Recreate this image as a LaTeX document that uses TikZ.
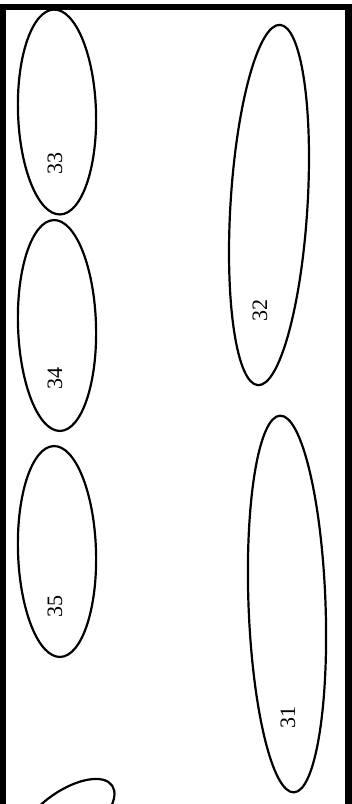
\documentclass[tikz,border=0pt]{standalone}
\usepackage{fontspec}
\setmainfont{Liberation Serif}
\usetikzlibrary{shapes.geometric}
\tikzset{
  ell/.style={draw=black, line width=2.2pt, ellipse, inner sep=0pt, outer sep=0pt},
  lbl/.style={font=\fontsize{22}{22}\selectfont, rotate=90, inner sep=0pt},
  frame/.style={draw=black, line width=6.5pt}
}
\begin{document}
\begin{tikzpicture}[x=1pt, y=-1pt]
\useasboundingbox (0,0) rectangle (352,804);
\begin{scope}
\clip (0,0) rectangle (352,804);
% frame (bottom side lies outside the picture)
\coordinate (fbl) at (3,830);
\coordinate (ftl) at (3,7);
\coordinate (ftr) at (348.5,7);
\coordinate (fbr) at (348.5,830);
\draw[frame] (fbl) -- (ftl) -- (ftr) -- (fbr);
% ellipses
\node[ell, minimum width=78pt, minimum height=205pt, rotate=1.8] (e33) at (57,112) {};
\node[ell, minimum width=78pt, minimum height=211pt, rotate=1.8] (e34) at (57,325.5) {};
\node[ell, minimum width=78pt, minimum height=211pt, rotate=1.8] (e35) at (57,551.5) {};
\node[ell, minimum width=77pt, minimum height=361pt, rotate=-3.5] (e32) at (269,205) {};
\node[ell, minimum width=77pt, minimum height=377pt, rotate=2.1] (e31) at (287,604) {};
\node[ell, minimum width=110pt, minimum height=52pt, rotate=35] (e36) at (67,817) {};
% labels
\node[lbl] (t33) at (55,163) {33};
\node[lbl] (t34) at (55,378) {34};
\node[lbl] (t35) at (55,606) {35};
\node[lbl] (t32) at (260,310) {32};
\node[lbl] (t31) at (288,717) {31};
\end{scope}
\end{tikzpicture}
\end{document}
